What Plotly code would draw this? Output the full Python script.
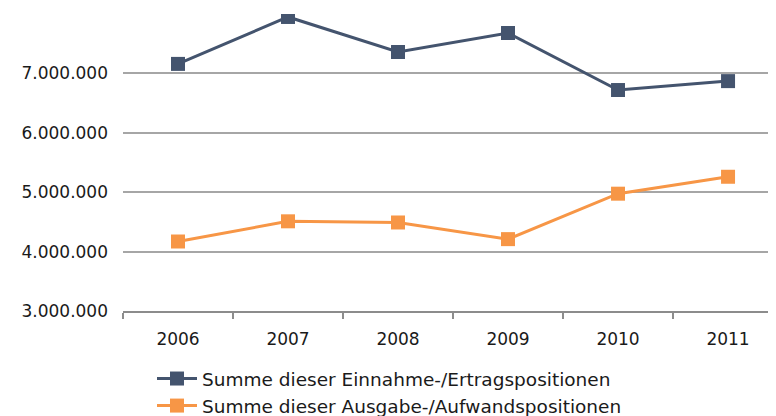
import plotly.graph_objects as go

years = ["2006", "2007", "2008", "2009", "2010", "2011"]
einnahmen = [7160000, 7950000, 7360000, 7680000, 6720000, 6870000]
ausgaben = [4170000, 4510000, 4490000, 4210000, 4975000, 5260000]
name_ein = "Summe dieser Einnahme-/Ertragspositionen"
name_aus = "Summe dieser Ausgabe-/Aufwandspositionen"
y_ticks = [3000000, 4000000, 5000000, 6000000, 7000000]
y_tick_labels = ["3.000.000", "4.000.000", "5.000.000", "6.000.000", "7.000.000"]

# page body has an 8px margin; plot area in figure coords: x 115..768, y 6..303
fig = go.Figure()
fig.add_trace(go.Scatter(x=years, y=einnahmen, name=name_ein, mode="lines+markers",
                         line=dict(color="#44546E", width=3),
                         marker=dict(symbol="square", size=14, color="#44546E")))
fig.add_trace(go.Scatter(x=years, y=ausgaben, name=name_aus, mode="lines+markers",
                         line=dict(color="#F79646", width=3),
                         marker=dict(symbol="square", size=14, color="#F79646")))

fig.update_layout(
    width=776, height=416,
    margin=dict(l=115, r=8, t=6, b=113, autoexpand=False),
    paper_bgcolor="white", plot_bgcolor="white",
    font=dict(family="DejaVu Sans", size=17, color="#1a1a1a"),
    showlegend=True,
    legend=dict(orientation="v", x=(144 - 115) / 653, xanchor="left",
                y=(303 - 352) / 297, yanchor="top",
                font=dict(size=18.5), tracegroupgap=0, itemwidth=40,
                bgcolor="rgba(0,0,0,0)"),
)
fig.update_xaxes(type="category", range=[-0.5, 5.436], tickson="boundaries",
                 ticks="outside", ticklen=6, tickwidth=2, tickcolor="#8c8c8c",
                 showline=True, linecolor="#8c8c8c", linewidth=2,
                 showgrid=False, ticklabelstandoff=12)
fig.update_yaxes(range=[3000000, 8000000], tickvals=y_ticks, ticktext=y_tick_labels,
                 showgrid=True, gridcolor="#a6a6a6", gridwidth=1.5,
                 showline=False, zeroline=False, ticks="", ticklabelstandoff=14)

fig.write_html("out.html")
